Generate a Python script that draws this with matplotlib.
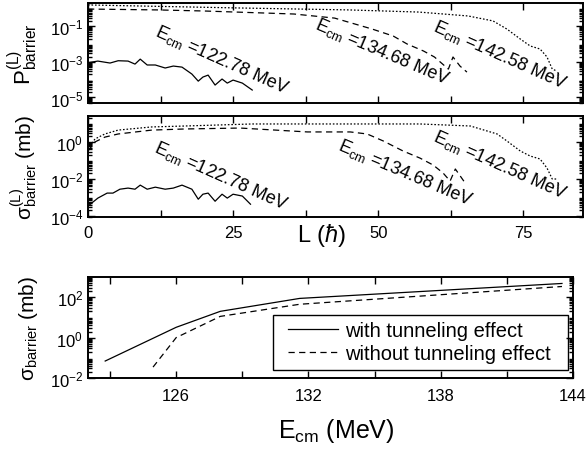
import numpy as np
import matplotlib
matplotlib.use("Agg")
import matplotlib.pyplot as plt
from matplotlib.patches import Rectangle
from matplotlib.ticker import LogLocator, FixedLocator, NullFormatter, MultipleLocator

plt.rcParams['font.family'] = ['Liberation Sans', 'DejaVu Sans']
plt.rcParams['mathtext.fontset'] = 'custom'
plt.rcParams['mathtext.rm'] = 'Liberation Sans'
plt.rcParams['mathtext.it'] = 'Liberation Sans:italic'
plt.rcParams['mathtext.bf'] = 'Liberation Sans:bold'

# ---------------- data ----------------
# Top panel: P_barrier^(L) vs L (log10 values)
L_122 = [0, 1.7, 3.8, 5.2, 6.9, 8.1, 9.0, 10.2, 11.6, 13.3, 14.7, 16.2, 17.9, 19.0,
         19.8, 20.7, 21.9, 23.1, 24.0, 25.0, 26.6, 28.3]
logP_122 = [-3.04, -2.95, -3.06, -2.93, -2.95, -3.12, -2.84, -3.17, -3.17, -3.34, -3.23,
            -3.29, -3.68, -4.08, -3.85, -3.74, -4.30, -3.96, -4.19, -4.02, -4.19, -4.58]

L_134 = [0, 12, 20, 35.5, 42.5, 49, 52.6, 55, 57.8, 59.7, 62.1, 62.9, 64.1, 65.3]
logP_134 = [-0.02, -0.07, -0.13, -0.30, -0.53, -1.15, -1.54, -1.99, -2.38, -2.72, -3.40,
            -2.72, -3.23, -3.57]

L_142 = [0, 26, 45, 57, 65.5, 69.8, 72.2, 74.5, 76.2, 77.9, 79.1, 80.0, 80.8]
logP_142 = [0.21, 0.04, -0.07, -0.19, -0.41, -0.69, -1.15, -1.71, -2.10, -2.27, -2.72,
            -3.40, -3.51]

# Middle panel: sigma_barrier^(L) vs L (log10 values)
Ls_122 = [0, 1.7, 3.3, 4.3, 5.5, 6.9, 8.1, 9.0, 10.2, 11.6, 13.3, 14.7, 16.2, 17.9,
          19.0, 19.8, 20.7, 21.9, 23.1, 24.0, 25.0, 26.6, 28.0]
logS_122 = [-3.46, -3.03, -2.76, -2.76, -2.55, -2.49, -2.55, -2.33, -2.55, -2.44, -2.55,
            -2.49, -2.33, -2.55, -3.09, -2.82, -2.76, -3.2, -2.82, -3.03, -2.82, -2.92, -3.36]

Ls_134 = [0, 1.2, 2.9, 5.2, 11.0, 16.7, 26.2, 37.8, 45.2, 48.1, 50.9, 54.3, 57.2, 59.5,
          61.2, 62.4, 63.3, 65.0]
logS_134 = [-0.49, 0.0, 0.26, 0.43, 0.64, 0.70, 0.75, 0.54, 0.54, 0.43, 0.05, -0.49,
            -0.87, -1.25, -1.68, -2.11, -1.46, -2.22]

Ls_142 = [0, 1.2, 2.9, 5.2, 11.0, 16.7, 28.3, 57.2, 65.9, 70.5, 72.2, 74.5, 76.2, 77.9,
          79.1, 80.0, 81.0]
logS_142 = [-0.38, 0.16, 0.43, 0.64, 0.81, 0.86, 0.97, 0.97, 0.86, 0.43, 0.05, -0.49,
            -0.76, -0.92, -1.41, -2.0, -2.0]

# Bottom panel: sigma_barrier vs E_cm (log10 values)
E_with = [122.78, 126.0, 128.0, 131.6, 143.5]
logS_with = [-1.16, 0.51, 1.30, 1.94, 2.68]
E_without = [124.95, 126.0, 128.0, 131.6, 143.5]
logS_without = [-1.46, 0.0, 1.05, 1.65, 2.53]

legend_labels = ["with tunneling effect", "without tunneling effect"]
energy_labels = ["122.78", "134.68", "142.58"]

W, H = 587, 452
fig = plt.figure(figsize=(W / 100, H / 100), dpi=100)

def axes_px(x0, y0, x1, y1):
    return fig.add_axes([x0 / W, 1 - y1 / H, (x1 - x0) / W, (y1 - y0) / H])

ax1 = axes_px(88, 4, 583, 104)
ax2 = axes_px(88, 117, 583, 218)
ax3 = axes_px(88, 278, 573, 379)

lw = 0.9
def pw(v):
    return 10 ** np.asarray(v)

for ax, data in ((ax1, [(L_122, logP_122), (L_134, logP_134), (L_142, logP_142)]),
                 (ax2, [(Ls_122, logS_122), (Ls_134, logS_134), (Ls_142, logS_142)])):
    (a, b), (c, d), (e, f) = data
    ax.plot(a, pw(b), color='black', lw=lw, ls='-')
    ax.plot(c, pw(d), color='black', lw=lw, ls=(0, (5, 3.5)))
    ax.plot(e, pw(f), color='black', lw=lw, ls=(0, (1.3, 1.5)))
    ax.set_yscale('log')
    ax.set_xlim(0, 85.3)

ax1.set_ylim(10 ** -5.31, 10 ** 0.32)
ax2.set_ylim(10 ** -4.05, 10 ** 1.4)

for ax in (ax1, ax2):
    ax.xaxis.set_major_locator(FixedLocator([0, 25, 50, 75]))
    ax.xaxis.set_minor_locator(MultipleLocator(12.5))

ax1.set_yticks([1e-5, 1e-3, 1e-1])
ax2.set_yticks([1e-4, 1e-2, 1e0])
ax1.tick_params(axis='x', labelbottom=False)

ax3.plot(E_with, pw(logS_with), color='black', lw=lw, ls='-', label=legend_labels[0])
ax3.plot(E_without, pw(logS_without), color='black', lw=lw, ls=(0, (5, 3.5)), label=legend_labels[1])
ax3.set_yscale('log')
ax3.set_xlim(122, 144)
ax3.set_ylim(1e-2, 1e3)
ax3.set_yticks([1e-2, 1e0, 1e2])
ax3.xaxis.set_major_locator(FixedLocator([126, 132, 138, 144]))
ax3.xaxis.set_minor_locator(FixedLocator([123, 129, 135, 141]))

for ax in (ax1, ax2, ax3):
    ax.yaxis.set_minor_locator(LogLocator(base=10, subs=np.arange(2, 10), numticks=20))
    ax.yaxis.set_minor_formatter(NullFormatter())
    ax.tick_params(which='both', direction='in', top=True, right=True, labelsize=12, width=1.0)
    ax.tick_params(which='major', length=5)
    ax.tick_params(axis='x', which='minor', length=5)
    ax.tick_params(axis='y', which='minor', length=3)
    for s in ax.spines.values():
        s.set_linewidth(1.4)

ax2.tick_params(axis='x', which='major', pad=6)
ax3.tick_params(axis='x', which='major', pad=7.5)

# legend: text/handles without frame, plus a plain rectangular frame
leg = ax3.legend(loc='center left', bbox_to_anchor=(0.40, 0.352), fontsize=14.5,
                 frameon=False, handlelength=2.5, borderpad=0.3, labelspacing=0.2,
                 handletextpad=0.35, borderaxespad=0)
ax3.add_patch(Rectangle((0.381, 0.079), 0.609, 0.545, transform=ax3.transAxes,
                        fill=False, edgecolor='black', lw=1.0, zorder=5))

ax1.set_ylabel(r'$\mathregular{P^{(L)}_{barrier}}$', fontsize=16)
ax2.set_ylabel(r'$\mathregular{\sigma^{(L)}_{barrier}}$ (mb)', fontsize=15)
ax3.set_ylabel(r'$\mathregular{\sigma_{barrier}}$ (mb)', fontsize=15)
ax1.yaxis.set_label_coords(-0.097, 0.5)
ax2.yaxis.set_label_coords(-0.097, 0.5)
ax3.yaxis.set_label_coords(-0.099, 0.5)

fig.text(322 / W, 1 - 242 / H, r'L ($\hbar$)', fontsize=17, ha='center', va='baseline')
fig.text(336 / W, 1 - 438 / H, r'$\mathregular{E_{cm}}$ (MeV)', fontsize=18,
         ha='center', va='baseline')

def ann(ax, x, y, e, rot=-24):
    ax.text(x, y, r'$\mathregular{E_{cm}}$ =' + e + ' MeV', transform=ax.transAxes,
            rotation=rot, ha='center', va='center', fontsize=13)

ann(ax1, 0.271, 0.44, energy_labels[0])
ann(ax1, 0.594, 0.52, energy_labels[1], -23)
ann(ax1, 0.832, 0.49, energy_labels[2])
ann(ax2, 0.269, 0.416, energy_labels[0])
ann(ax2, 0.640, 0.445, energy_labels[1], -23)
ann(ax2, 0.832, 0.525, energy_labels[2])

fig.savefig('out.png', dpi=100)
